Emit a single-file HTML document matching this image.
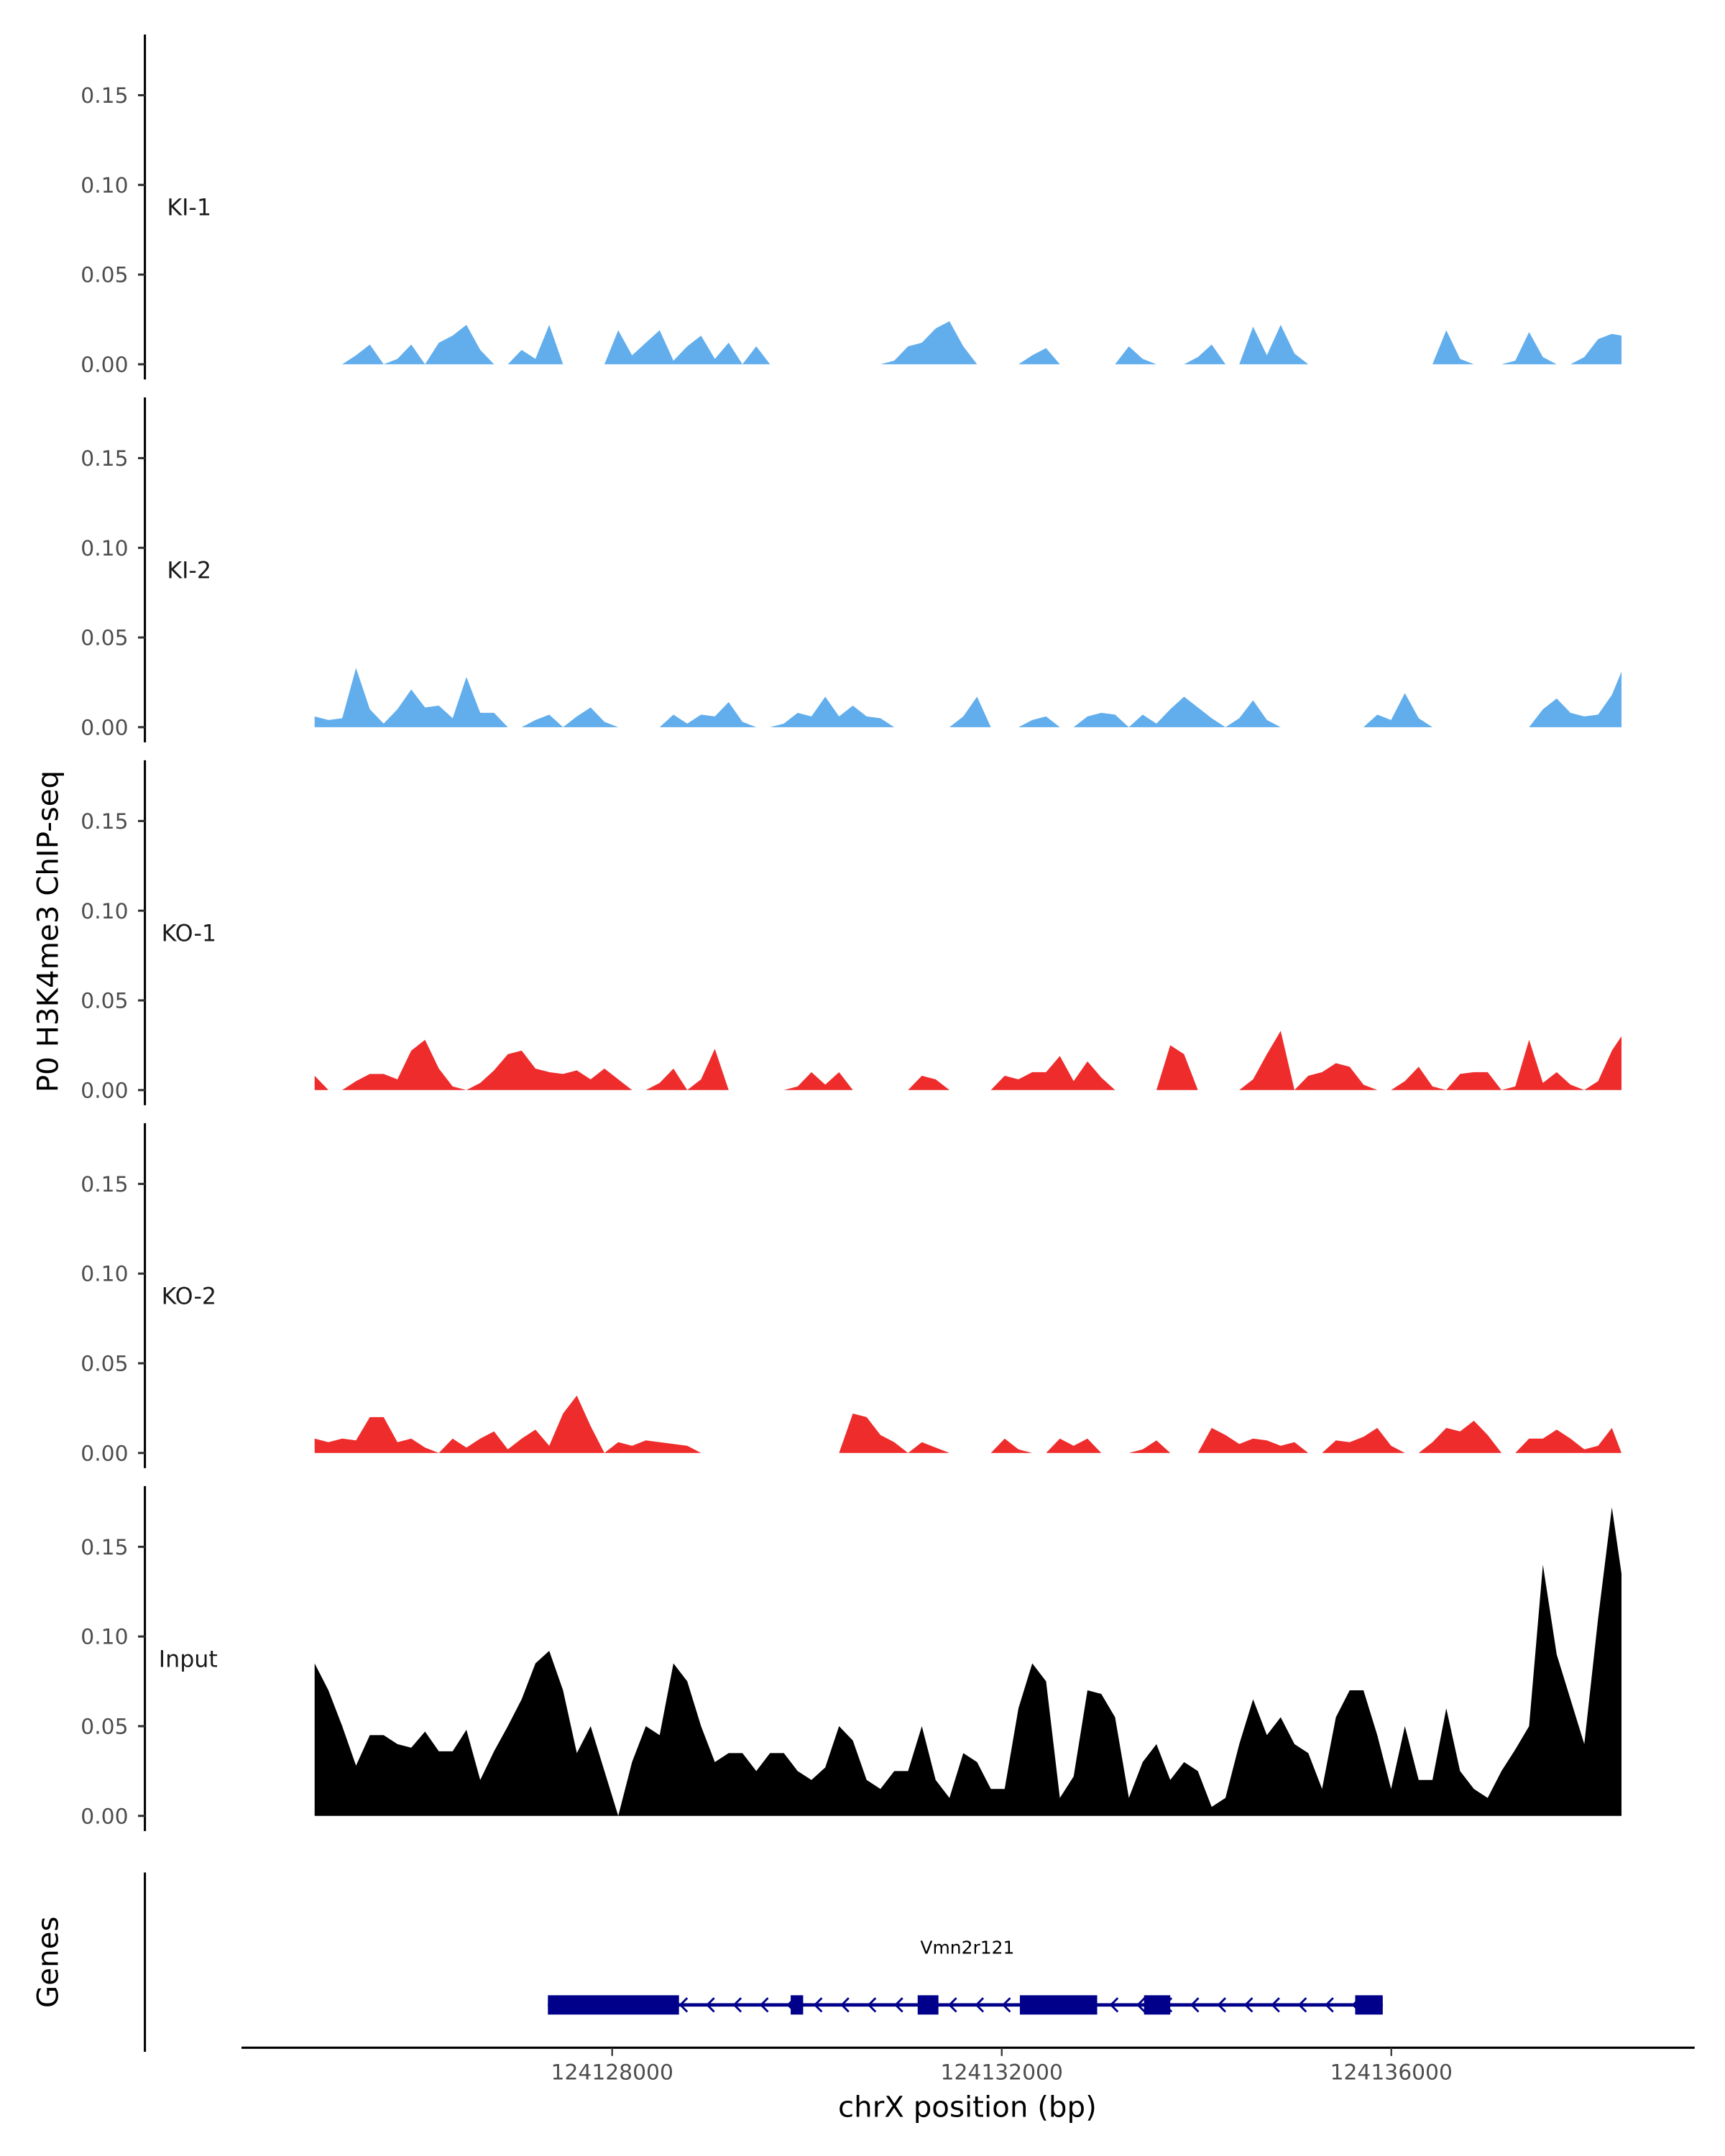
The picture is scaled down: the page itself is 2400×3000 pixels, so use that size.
<!DOCTYPE html>
<html><head><meta charset="utf-8"><style>
html,body{margin:0;padding:0;background:#fff;}
svg{display:block;}
text{font-family:"DejaVu Sans","Liberation Sans",sans-serif;}
</style></head><body>
<svg id="chart" width="2400" height="3000" viewBox="0 0 1250 1562.5" xmlns="http://www.w3.org/2000/svg">
<text x="0" y="0" transform="translate(42,675) rotate(-90)" text-anchor="middle" font-size="21" fill="#000">P0 H3K4me3 ChIP-seq</text>
<text x="0" y="0" transform="translate(42,1422) rotate(-90)" text-anchor="middle" font-size="21" fill="#000">Genes</text>
<g id="tracks"></g>
<g id="genes"></g>
<line x1="175" y1="1484" x2="1228" y2="1484" stroke="#000" stroke-width="1.6"/>
<text x="701" y="1534" text-anchor="middle" font-size="21" fill="#000">chrX position (bp)</text>
</svg>
<script>
const trackNames = ["KI-1","KI-2","KO-1","KO-2","Input"];
const trackColors = ["#62aeec","#62aeec","#ee2c2c","#ee2c2c","#000000"];
const yTicks = [0, 0.05, 0.10, 0.15];
const yTickLabels = ["0.00","0.05","0.10","0.15"];
const xTicks = [124128000, 124132000, 124136000];
const xTickLabels = ["124128000","124132000","124136000"];
const binStartBp = 124124945;
const binSizeBp = 141.7;
const ki1 = [0,0,0,0.005,0.011,0,0.003,0.011,0,0.012,0.016,0.022,0.008,0,0,0.008,0.003,0.022,0,0,0,0,0.019,0.005,0.012,0.019,0.002,0.01,0.016,0.003,0.012,0,0.01,0,
0,0,0,0,0,0,0,0,0.002,0.01,0.012,0.02,0.024,0.01,0,0,0,0,0.005,0.009,0,0,0,0,0,0.01,0.003,0,0,0,0.004,0.011,0,0,0.021,0.005,0.022,0.006,0,
0,0,0,0,0,0,0,0,0,0.019,0.003,0,0,0,0.002,0.018,0.004,0,0,0.004,0.014,0.017,0.016];
const ki2 = [0.006,0.004,0.005,0.033,0.01,0.002,0.01,0.021,0.011,0.012,0.005,0.028,0.008,0.008,0,0,0.004,0.007,0,0.006,0.011,0.003,0,0,0,0,0.007,0.002,0.007,0.006,0.014,0.003,0,0,0.002,0.008,0.006,0.017,0.006,0.012,0.006,0.005,0,0,0,0,0,0.006,0.017,0,0,0,0.004,0.006,0,0,0.006,0.008,0.007,0,0.007,0.002,0.01,0.017,0.011,0.005,0,0.005,0.015,0.004,0,0,0,0,0,0,0,
0.007,0.004,0.019,0.005,0,0,0,0,0,0,0,0,0.01,0.016,0.008,0.006,0.007,0.018,0.031];
const ko1 = [0.008,0,0,0.005,0.009,0.009,0.006,0.022,0.028,0.012,0.002,0,0.004,0.011,0.02,0.022,0.012,0.01,0.009,0.011,0.006,0.012,0.006,0,0,0.004,0.012,0,0.006,0.023,0,0,0,0,0,0.002,0.01,0.003,0.01,0,0,0,0,0,0.008,0.006,0,0,0,0,0.008,0.006,0.01,0.01,0.019,0.005,0.016,0.007,0,0,0,0,0.025,0.02,0,0,0,0,0.006,0.02,0.033,0,0.008,0.01,0.015,0.013,0.003,0,0,0.005,0.013,0.002,0,0.009,0.01,0.01,0,0.002,0.028,0.004,0.01,0.003,0,0.005,0.022,0.03];
const ko2 = [0.008,0.006,0.008,0.007,0.02,0.02,0.006,0.008,0.003,0,0.008,0.003,0.008,0.012,0.002,0.008,0.013,0.004,0.022,0.032,0.015,0,0.006,0.004,0.007,0.006,0.005,0.004,0,0,0,0,0,0,0,0,0,0,0,0.022,0.02,0.01,0.006,0,0.006,0.003,0,0,0,0,0.008,0.002,0,0,0.008,0.004,0.008,0,0,0,0.002,0.007,0,0,0,0.014,0.01,0.005,0.008,0.007,0.004,0.006,0,0,0.007,0.006,0.009,0.014,0.004,0,0,0.006,0.014,0.012,0.018,0.01,0,0,0.008,0.008,0.013,0.008,0.002,0.004,0.014,0];
const inputVals = [0.085,0.07,0.05,0.028,0.045,0.045,0.04,0.038,0.047,0.036,0.036,0.048,0.02,0.036,0.05,0.065,0.085,0.092,0.07,0.035,0.05,0.025,0,0.03,0.05,0.045,0.085,0.075,0.05,0.03,0.035,0.035,0.025,0.035,0.035,0.025,0.02,0.027,0.05,0.042,0.02,0.015,0.025,0.025,0.05,0.02,0.01,0.035,0.03,0.015,0.015,0.06,0.085,0.075,0.01,0.022,0.07,0.068,0.055,0.01,0.03,0.04,0.02,0.03,0.025,0.005,0.01,0.04,0.065,0.045,0.055,0.04,0.035,0.015,0.055,0.07,0.07,0.045,0.015,0.05,0.02,0.02,0.06,0.025,0.015,0.01,0.025,0.037,0.05,0.14,0.09,0.065,0.04,0.11,0.172,0.135];
const trackValues = [ki1, ki2, ko1, ko2, inputVals];
const geneName = "Vmn2r121";
const exonStarts = [124127340, 124129833, 124131137, 124132186, 124133461, 124135629];
const exonEnds   = [124128686, 124129961, 124131350, 124132980, 124133730, 124135912];
const geneStart = 124127340, geneEnd = 124135912;

const NS = "http://www.w3.org/2000/svg";
function mk(tag, attrs, parent){const e=document.createElementNS(NS,tag);for(const k in attrs)e.setAttribute(k,attrs[k]);parent.appendChild(e);return e;}
const xScale = bp => 443.6 + (bp - 124128000) * 282.3 / 4000;
const xMin = 228, xMax = 1175;
const yScale = (v, y0) => y0 - v * 1300;
const tracksG = document.getElementById('tracks');
trackNames.forEach((name, t) => {
  const y0 = 264 + 263 * t;
  const g = mk('g', {}, tracksG);
  
  
  const ax = mk('line', {x1:105, x2:105, y1:y0-239, y2:y0+11, stroke:'#000', 'stroke-width':1.6}, g);
  
  
  yTicks.forEach((v, i) => {
    const ty = yScale(v, y0);
    const tk = mk('line', {x1:100, x2:105, y1:ty, y2:ty, stroke:'#333', 'stroke-width':1.6}, g);
    
    
    const lb = mk('text', {x:93, y:ty+5.5, 'text-anchor':'end', 'font-size':15.5, fill:'#4d4d4d'}, g);
    lb.textContent = yTickLabels[i];
    
    
  });
  const tl = mk('text', {x: name === 'Input' ? 115 : (name.startsWith('KO') ? 117 : 121), y:y0-108, 'font-size':16.5, fill:'#1a1a1a'}, g);
  tl.textContent = name;
  
  
  const vals = trackValues[t];
  let d = 'M' + xMin + ',' + y0;
  vals.forEach((v, i) => {
    const x = Math.min(xScale(binStartBp + i * binSizeBp), xMax);
    d += ' L' + x.toFixed(2) + ',' + yScale(v, y0).toFixed(2);
  });
  d += ' L' + xMax + ',' + y0 + ' Z';
  const area = mk('path', {d:d, fill:trackColors[t], 'stroke-linejoin':'round'}, g);
  
  
});
const gg = document.getElementById('genes');
const gax = mk('line', {x1:105, x2:105, y1:1357, y2:1487, stroke:'#000', 'stroke-width':1.6}, gg);


const gl = mk('text', {x:701, y:1416, 'text-anchor':'middle', 'font-size':13, fill:'#000'}, gg);
gl.textContent = geneName;


const intron = mk('line', {x1:xScale(geneStart), x2:xScale(geneEnd), y1:1453, y2:1453, stroke:'#00008b', 'stroke-width':2.5}, gg);


for (let x = xScale(geneStart) + 20; x < xScale(geneEnd) - 5; x += 19.5) {
  const ch = mk('path', {d:`M${x+3},1448 L${x-2},1453 L${x+3},1458`, stroke:'#00008b', 'stroke-width':1.5, fill:'none'}, gg);
  
  
}
exonStarts.forEach((s, i) => {
  const x1 = xScale(s), x2 = xScale(exonEnds[i]);
  const r = mk('rect', {x:x1, y:1446, width:x2-x1, height:14, fill:'#00008b'}, gg);
  
  
});
const svg = document.getElementById('chart');
xTicks.forEach((v, i) => {
  const x = xScale(v);
  const tk = mk('line', {x1:x, x2:x, y1:1484, y2:1490, stroke:'#333', 'stroke-width':1.2}, svg);
  
  
  const lb = mk('text', {x:x, y:1507, 'text-anchor':'middle', 'font-size':15.5, fill:'#4d4d4d'}, svg);
  lb.textContent = xTickLabels[i];
  
  
});
</script>
</body></html>
